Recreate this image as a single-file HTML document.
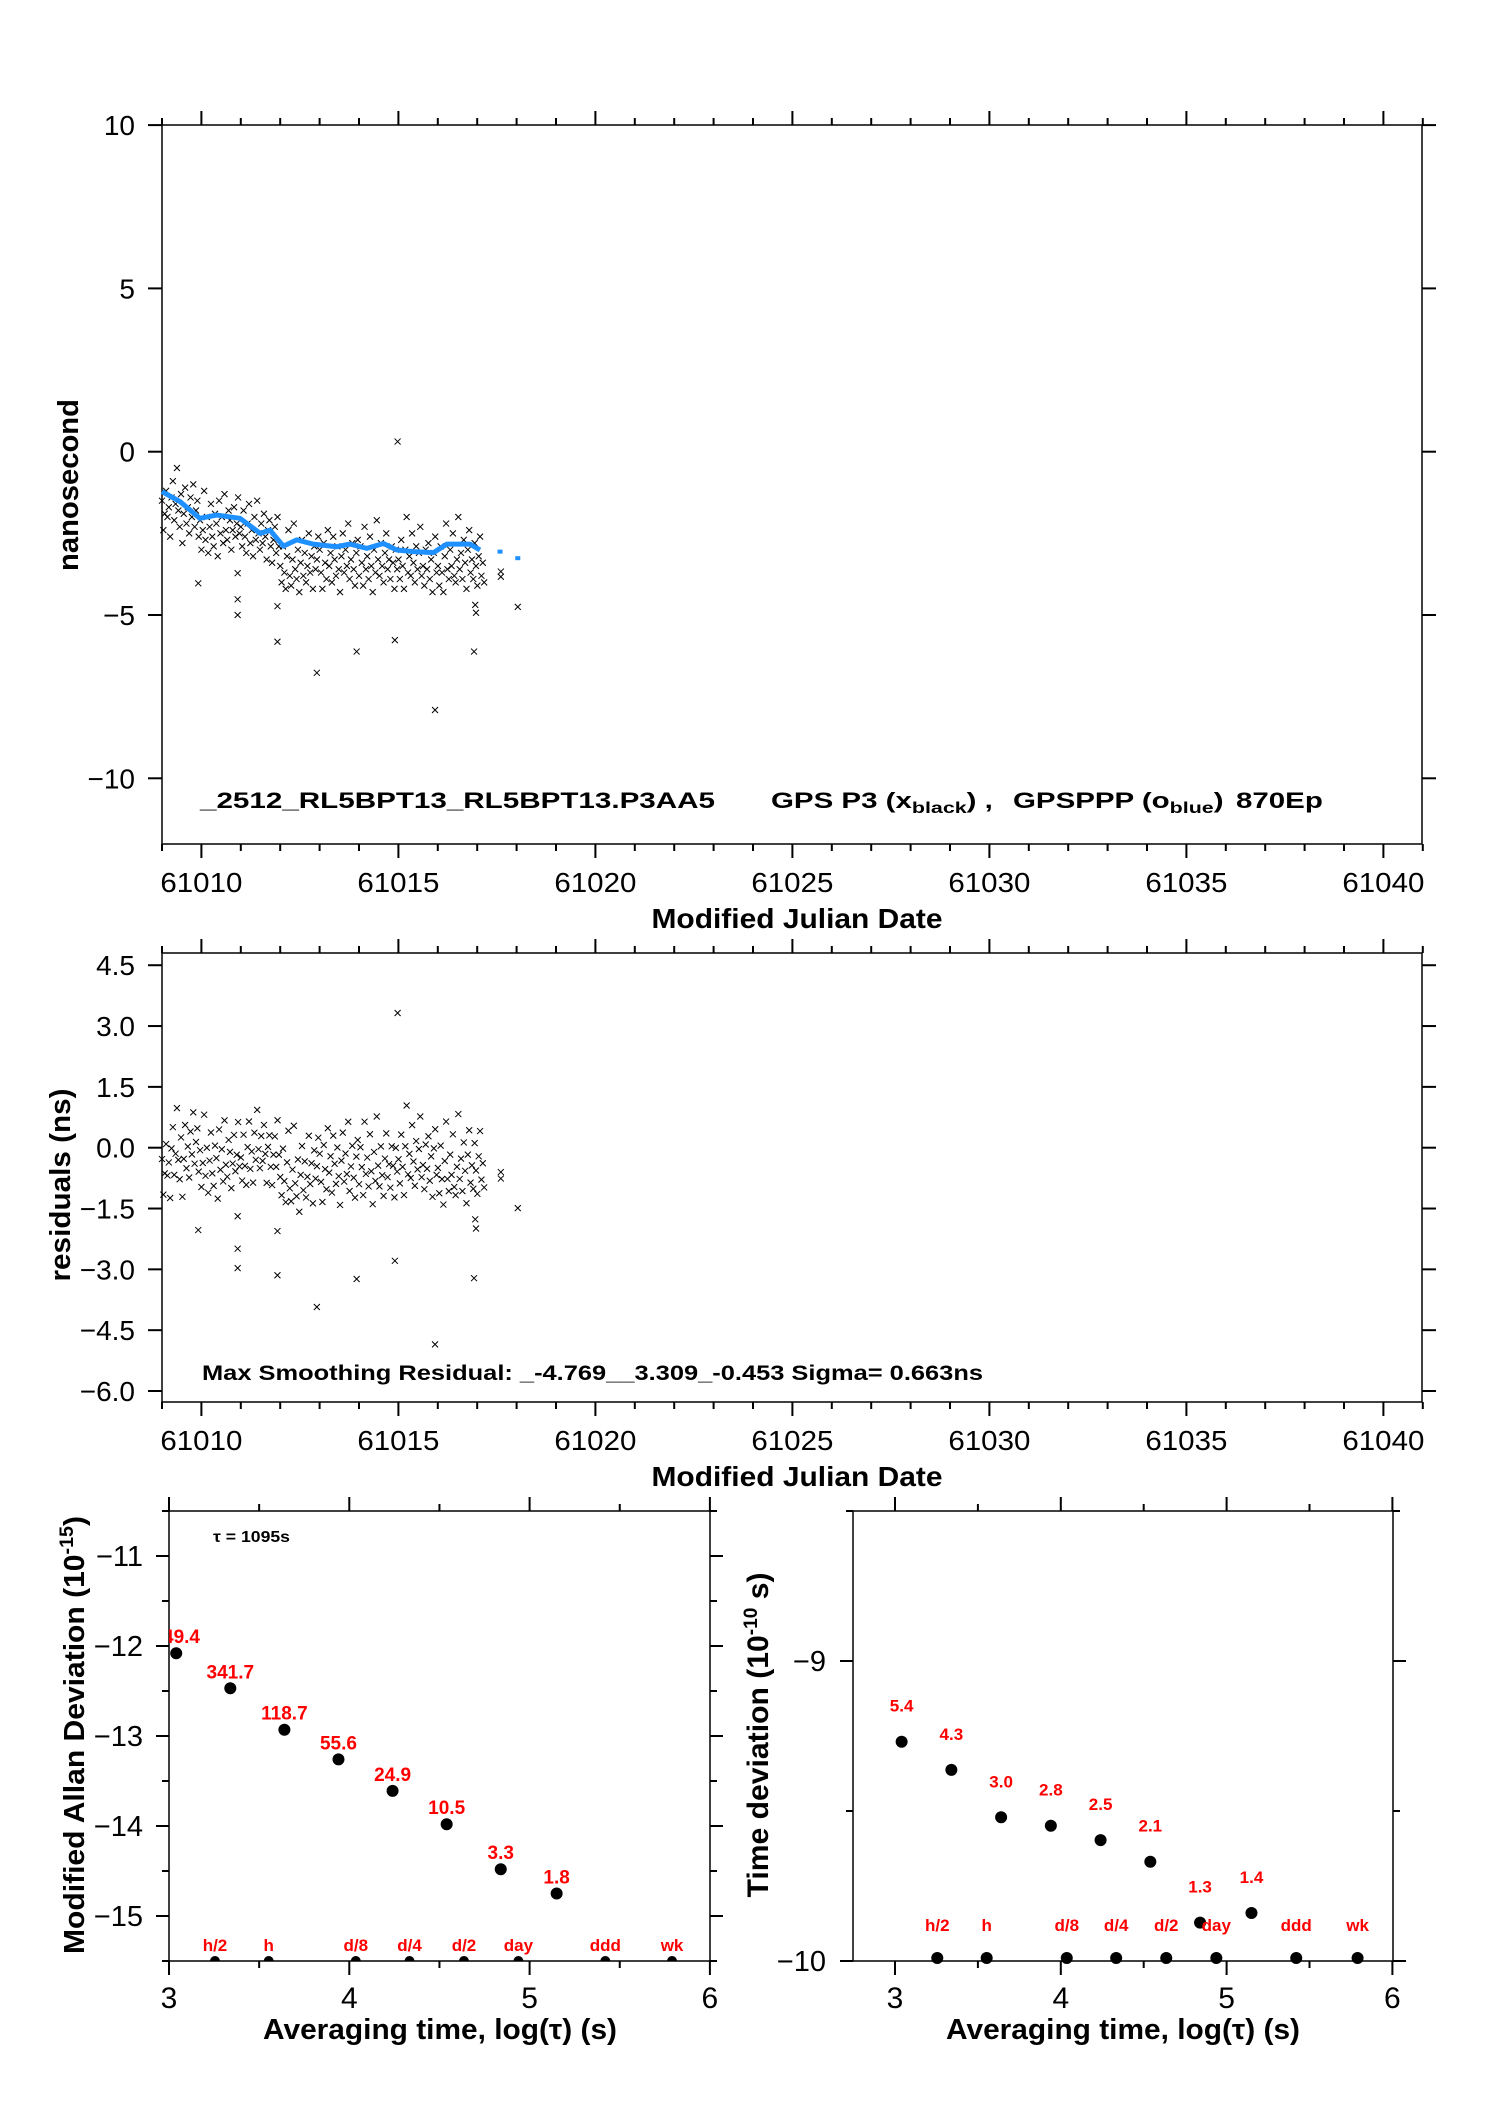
<!DOCTYPE html>
<html><head><meta charset="utf-8"><style>
html,body{margin:0;padding:0;background:#fff;}
svg{display:block;font-family:"Liberation Sans",sans-serif;}
</style></head><body>
<svg id="chart" width="1488" height="2105" viewBox="0 0 1488 2105" xmlns="http://www.w3.org/2000/svg">
<defs>
<clipPath id="clipL"><rect x="169" y="1511" width="541" height="450"/></clipPath>
</defs>
<rect x="0" y="0" width="1488" height="2105" fill="#fff"/>
<g id="top">
<rect x="162" y="125" width="1260" height="719" fill="none" stroke="#000" stroke-width="1.5"/>
<text x="0" y="0" transform="translate(78,485) rotate(-90)" text-anchor="middle" font-size="29" font-weight="bold" textLength="172" lengthAdjust="spacingAndGlyphs">nanosecond</text>
<text x="797" y="928" text-anchor="middle" font-size="28" font-weight="bold" textLength="291" lengthAdjust="spacingAndGlyphs">Modified Julian Date</text>
<g font-weight="bold">
<text x="200" y="808" font-size="22" textLength="515" lengthAdjust="spacingAndGlyphs">_2512_RL5BPT13_RL5BPT13.P3AA5</text>
<g transform="translate(771,808) scale(1.34,1)"><text x="0" y="0" font-size="22">GPS P3 (x<tspan font-size="16" dy="5">black</tspan><tspan dy="-5">) ,</tspan></text></g>
<g transform="translate(1013,808) scale(1.34,1)"><text x="0" y="0" font-size="22">GPSPPP (o<tspan font-size="16" dy="5">blue</tspan><tspan dy="-5">)</tspan></text></g>
<g transform="translate(1236,808) scale(1.34,1)"><text x="0" y="0" font-size="22">870Ep</text></g>
</g>
</g>
<g id="res">
<rect x="162" y="953" width="1260" height="449" fill="none" stroke="#000" stroke-width="1.5"/>
<text x="0" y="0" transform="translate(70,1185) rotate(-90)" text-anchor="middle" font-size="29" font-weight="bold" textLength="193" lengthAdjust="spacingAndGlyphs">residuals (ns)</text>
<text x="797" y="1486" text-anchor="middle" font-size="28" font-weight="bold" textLength="291" lengthAdjust="spacingAndGlyphs">Modified Julian Date</text>
<text x="202" y="1380" font-size="21" font-weight="bold" textLength="781" lengthAdjust="spacingAndGlyphs">Max Smoothing Residual: _-4.769__3.309_-0.453  Sigma= 0.663ns</text>
</g>
<g id="adev">
<rect x="169" y="1511" width="541" height="450" fill="none" stroke="#000" stroke-width="1.5"/>
<text x="0" y="0" transform="translate(84,1735) rotate(-90)" text-anchor="middle" font-size="29" font-weight="bold" textLength="438" lengthAdjust="spacingAndGlyphs">Modified Allan Deviation (10<tspan font-size="19" dy="-11">-15</tspan><tspan dy="11">)</tspan></text>
<text x="440" y="2039" text-anchor="middle" font-size="29" font-weight="bold" textLength="354" lengthAdjust="spacingAndGlyphs">Averaging time, log(τ) (s)</text>
<text x="213" y="1542" font-size="16" font-weight="bold" textLength="77" lengthAdjust="spacingAndGlyphs">τ = 1095s</text>
</g>
<g id="tdev">
<rect x="853" y="1511" width="540" height="450" fill="none" stroke="#000" stroke-width="1.5"/>
<text x="0" y="0" transform="translate(768,1735) rotate(-90)" text-anchor="middle" font-size="30" font-weight="bold" textLength="325" lengthAdjust="spacingAndGlyphs">Time deviation (10<tspan font-size="19" dy="-11">-10</tspan><tspan dy="11"> s)</tspan></text>
<text x="1123" y="2039" text-anchor="middle" font-size="29" font-weight="bold" textLength="354" lengthAdjust="spacingAndGlyphs">Averaging time, log(τ) (s)</text>
</g>
</svg>
<script>
// ---------- data ----------
const epochStart = 61009.0;
const epochStep = 0.0345;
const phaseNs = [
-1.5,-2.4,-1.9,-1.2,-2.0,-1.7,-2.6,-1.4,-0.9,-2.1,-1.6,-0.5,-1.8,-2.3,-1.3,-2.8,-1.9,-1.1,-2.2,-1.7,-2.5,-1.4,-2.0,-1.0,-2.3,-1.8,-1.5,-2.6,-2.1,
-3.0,-2.4,-1.2,-2.7,-2.0,-3.1,-2.3,-1.6,-2.6,-2.9,-1.9,-2.2,-3.2,-1.5,-2.5,-2.0,-2.8,-1.3,-2.4,-2.7,-1.8,-2.1,-3.0,-2.4,-1.7,-2.6,-2.2,-1.4,-2.5,
-2.3,-2.9,-1.8,-2.6,-3.1,-2.2,-1.6,-2.8,-2.4,-3.2,-2.0,-2.7,-1.5,-2.5,-3.0,-2.2,-2.8,-1.9,-2.6,-3.3,-2.4,-2.1,-2.9,-3.4,-2.7,-2.3,-3.1,-2.0,-2.9,
-3.5,-4.0,-2.9,-3.7,-4.2,-3.2,-2.4,-3.8,-4.1,-3.3,-2.2,-3.6,-3.9,-3.0,-4.3,-3.4,-2.7,-3.8,-3.1,-4.0,-3.5,-2.5,-3.7,-3.2,-4.2,-2.9,-3.6,-3.3,-2.6,
-3.0,-3.7,-4.2,-2.8,-3.4,-3.9,-2.4,-3.5,-3.1,-4.0,-2.6,-3.3,-3.8,-2.9,-3.6,-4.3,-3.2,-2.5,-3.7,-3.0,-3.5,-2.2,-3.9,-3.3,-2.8,-3.6,-4.1,-3.1,-2.7,
-3.8,-2.9,-3.4,-4.1,-2.3,-3.6,-3.2,-3.9,-2.6,-3.5,-4.3,-3.0,-3.7,-2.1,-3.3,-3.8,-2.8,-3.5,-4.0,-3.1,-2.5,-3.6,-3.3,-3.9,-2.9,-3.4,-4.2,-3.0,-3.6,
-3.3,-3.9,-2.7,-3.5,-4.2,-3.0,-2.0,-3.7,-3.2,-3.8,-2.5,-3.4,-4.0,-2.9,-3.6,-3.1,-2.3,-3.8,-3.5,-4.1,-3.0,-3.6,-2.8,-3.9,-3.3,-4.3,-3.1,-2.6,-3.7,
-3.5,-4.1,-2.9,-3.7,-4.3,-3.2,-2.2,-3.6,-3.9,-3.0,-3.5,-2.5,-3.8,-4.0,-3.3,-2.0,-3.6,-3.1,-3.9,-2.7,-3.4,-4.2,-3.0,-2.4,-3.7,-3.3,-3.9,-2.8,-3.5,-4.1,-3.2,-2.6,-3.8,-3.4,-4.0
];
const outlierMjd = [61009.92,61010.92,61010.92,61010.92,61011.93,61011.93,61012.93,61013.94,61014.91,61014.98,61015.93,61016.92,61016.95,61016.97,61017.6,61017.6,61018.03];
const outlierNs  = [-4.03,-5.0,-4.52,-3.72,-4.73,-5.82,-6.77,-6.12,-5.77,0.31,-7.91,-6.12,-4.69,-4.93,-3.67,-3.83,-4.75];
const smoothMjd = [61009.0,61009.46,61009.96,61010.39,61010.98,61011.49,61011.74,61012.08,61012.42,61012.84,61013.43,61013.77,61014.2,61014.62,61014.96,61015.38,61015.89,61016.23,61016.82,61017.07,61017.58,61018.03];
const smoothNs  = [-1.22,-1.53,-2.04,-1.94,-2.04,-2.50,-2.40,-2.89,-2.70,-2.83,-2.91,-2.83,-2.96,-2.81,-3.01,-3.06,-3.09,-2.83,-2.83,-3.01,-3.06,-3.26];
const smoothGapAfter = 61017.1;
const mjdMajorTicks = [61010,61015,61020,61025,61030,61035,61040];
const nsTicks = [10,5,0,-5,-10];
const resTicks = [4.5,3.0,1.5,0.0,-1.5,-3.0,-4.5,-6.0];
const resTickLabels = ["4.5","3.0","1.5","0.0","−1.5","−3.0","−4.5","−6.0"];
const logTau = [3.04,3.34,3.64,3.94,4.24,4.54,4.84,5.15];
const adevVals = [-12.08,-12.47,-12.93,-13.26,-13.61,-13.98,-14.48,-14.75];
const adevLabels = ["749.4","341.7","118.7","55.6","24.9","10.5","3.3","1.8"];
const tdevVals = [-9.269,-9.363,-9.521,-9.549,-9.597,-9.669,-9.872,-9.84];
const tdevLabels = ["5.4","4.3","3.0","2.8","2.5","2.1","1.3","1.4"];
const markerLog = [3.255,3.553,4.036,4.334,4.636,4.938,5.42,5.79];
const markerNames = ["h/2","h","d/8","d/4","d/2","day","ddd","wk"];
const adevTicks = [-11,-12,-13,-14,-15];
const adevTickLabels = ["−11","−12","−13","−14","−15"];
const tdevTicks = [-9,-10];
const tdevTickLabels = ["−9","−10"];
const logTicks = [3,4,5,6];

// ---------- scales ----------
const NS="http://www.w3.org/2000/svg";
const svg=document.getElementById('chart');
const X=m=>162+(m-61009)*39.4;
const Y1=v=>451.7-v*32.66;
const Y2=v=>1147.7-v*40.55;
const XL=l=>169+(l-3)*180.3;
const YL=v=>1511+(-10.5-v)*90;
const XR=l=>895+(l-3)*165.8;
const YR=v=>1661+(-9-v)*300;
function mk(tag,attrs,parent){const e=document.createElementNS(NS,tag);for(const k in attrs)e.setAttribute(k,attrs[k]);(parent||svg).appendChild(e);return e;}
function smoothAt(m){
  if(m<=smoothMjd[0])return smoothNs[0];
  for(let i=1;i<smoothMjd.length;i++){if(m<=smoothMjd[i]){const t=(m-smoothMjd[i-1])/(smoothMjd[i]-smoothMjd[i-1]);return smoothNs[i-1]+t*(smoothNs[i]-smoothNs[i-1]);}}
  return smoothNs[smoothNs.length-1];
}
function tick(x1,y1,x2,y2,name){const l=mk('line',{x1:x1,y1:y1,x2:x2,y2:y2,stroke:'#000','stroke-width':2});

}
function label(x,y,txt,anchor,size,name,extra){const t=mk('text',Object.assign({x:x,y:y,'text-anchor':anchor,'font-size':size},extra||{}));t.textContent=txt;

return t;}
function cross(cx,cy,g,name){const p=mk('path',{d:`M${cx-3},${cy-3}L${cx+3},${cy+3}M${cx-3},${cy+3}L${cx+3},${cy-3}`,stroke:'#000','stroke-width':1,fill:'none'},g);

}

// ---------- MJD axes (both top panels) ----------
[[125,844,'top'],[953,1402,'residual']].forEach(([top,bot,nm])=>{
  for(let m=61009;m<=61041;m++){const maj=mjdMajorTicks.includes(m);const len=maj?14:7;
    tick(X(m),top,X(m),top-len,nm+'-x-tick-top');tick(X(m),bot,X(m),bot+len,nm+'-x-tick-bottom');}
  mjdMajorTicks.forEach(m=>label(X(m),bot+48,String(m),'middle',28,nm+'-x-tick-label',{textLength:82,lengthAdjust:'spacingAndGlyphs'}));
});
nsTicks.forEach(v=>{tick(148,Y1(v),162,Y1(v),'top-y-tick-left');tick(1422,Y1(v),1436,Y1(v),'top-y-tick-right');
  label(135,Y1(v)+10,v<0?'−'+Math.abs(v):String(v),'end',28,'top-y-tick-label');});
resTicks.forEach((v,i)=>{tick(148,Y2(v),162,Y2(v),'residual-y-tick-left');tick(1422,Y2(v),1436,Y2(v),'residual-y-tick-right');
  label(135,Y2(v)+10,resTickLabels[i],'end',28,'residual-y-tick-label');});

// ---------- phase scatter ----------
const gTop=mk('g',{});


const gRes=mk('g',{});


const allM=[],allV=[];
phaseNs.forEach((v,i)=>{allM.push(epochStart+i*epochStep);allV.push(v);});
outlierMjd.forEach((m,i)=>{allM.push(m);allV.push(outlierNs[i]);});
allM.forEach((m,i)=>{
  cross(X(m),Y1(allV[i]),gTop,'phase-point');
  cross(X(m),Y2(allV[i]-smoothAt(m)),gRes,'residual-point');
});
// smoothing curve
let pts=[];
smoothMjd.forEach((m,i)=>{if(m<=smoothGapAfter)pts.push(X(m)+','+Y1(smoothNs[i]));});
const pl=mk('polyline',{points:pts.join(' '),fill:'none',stroke:'#1e90ff','stroke-width':5,'stroke-linejoin':'round'});


smoothMjd.forEach((m,i)=>{if(m>smoothGapAfter){const r=mk('rect',{x:X(m)-2.5,y:Y1(smoothNs[i])-2,width:5,height:4,fill:'#1e90ff'});

}});

// ---------- ADEV panel ----------
logTicks.forEach(l=>{tick(XL(l),1511,XL(l),1497,'adev-x-tick-top');tick(XL(l),1961,XL(l),1975,'adev-x-tick-bottom');
  label(XL(l),2008,String(l),'middle',30,'adev-x-tick-label');});
[3.5,4.5,5.5].forEach(l=>{tick(XL(l),1511,XL(l),1504,'adev-x-minor-top');tick(XL(l),1961,XL(l),1968,'adev-x-minor-bottom');});
adevTicks.forEach((v,i)=>{tick(156,YL(v),169,YL(v),'adev-y-tick-left');tick(710,YL(v),723,YL(v),'adev-y-tick-right');
  label(143,YL(v)+10,adevTickLabels[i],'end',29,'adev-y-tick-label');});
[-10.5,-11.5,-12.5,-13.5,-14.5,-15.5].forEach(v=>{tick(162,YL(v),169,YL(v),'adev-y-minor-left');tick(710,YL(v),717,YL(v),'adev-y-minor-right');});
const gA=mk('g',{'clip-path':'url(#clipL)'});


logTau.forEach((l,i)=>{const c=mk('circle',{cx:XL(l),cy:YL(adevVals[i]),r:6,fill:'#000'},gA);


const t=mk('text',{x:XL(l),y:YL(adevVals[i])-10,'text-anchor':'middle','font-size':19,'font-weight':'bold',fill:'#f00'},gA);t.textContent=adevLabels[i];

});
markerLog.forEach((l,i)=>{const c=mk('circle',{cx:XL(l),cy:1961,r:5,fill:'#000'},gA);


const t=mk('text',{x:XL(l),y:1951,'text-anchor':'middle','font-size':17,'font-weight':'bold',fill:'#f00'},gA);t.textContent=markerNames[i];

});

// ---------- TDEV panel ----------
logTicks.forEach(l=>{tick(XR(l),1511,XR(l),1497,'tdev-x-tick-top');tick(XR(l),1961,XR(l),1975,'tdev-x-tick-bottom');
  label(XR(l),2008,String(l),'middle',30,'tdev-x-tick-label');});
[3.5,4.5,5.5].forEach(l=>{tick(XR(l),1511,XR(l),1504,'tdev-x-minor-top');tick(XR(l),1961,XR(l),1968,'tdev-x-minor-bottom');});
tdevTicks.forEach((v,i)=>{tick(840,YR(v),853,YR(v),'tdev-y-tick-left');tick(1393,YR(v),1406,YR(v),'tdev-y-tick-right');
  label(826,YR(v)+10,tdevTickLabels[i],'end',29,'tdev-y-tick-label');});
[-8.5,-9.5].forEach(v=>{tick(846,YR(v),853,YR(v),'tdev-y-minor-left');tick(1393,YR(v),1400,YR(v),'tdev-y-minor-right');});
logTau.forEach((l,i)=>{const c=mk('circle',{cx:XR(l),cy:YR(tdevVals[i]),r:6,fill:'#000'});


label(XR(l),YR(tdevVals[i])-30,tdevLabels[i],'middle',17,'tdev-value-label',{'font-weight':'bold',fill:'#f00'});});
markerLog.forEach((l,i)=>{const c=mk('circle',{cx:XR(l),cy:1958,r:6,fill:'#000'});


label(XR(l),1931,markerNames[i],'middle',17,'tdev-interval-label',{'font-weight':'bold',fill:'#f00'});});
</script>
</body></html>
